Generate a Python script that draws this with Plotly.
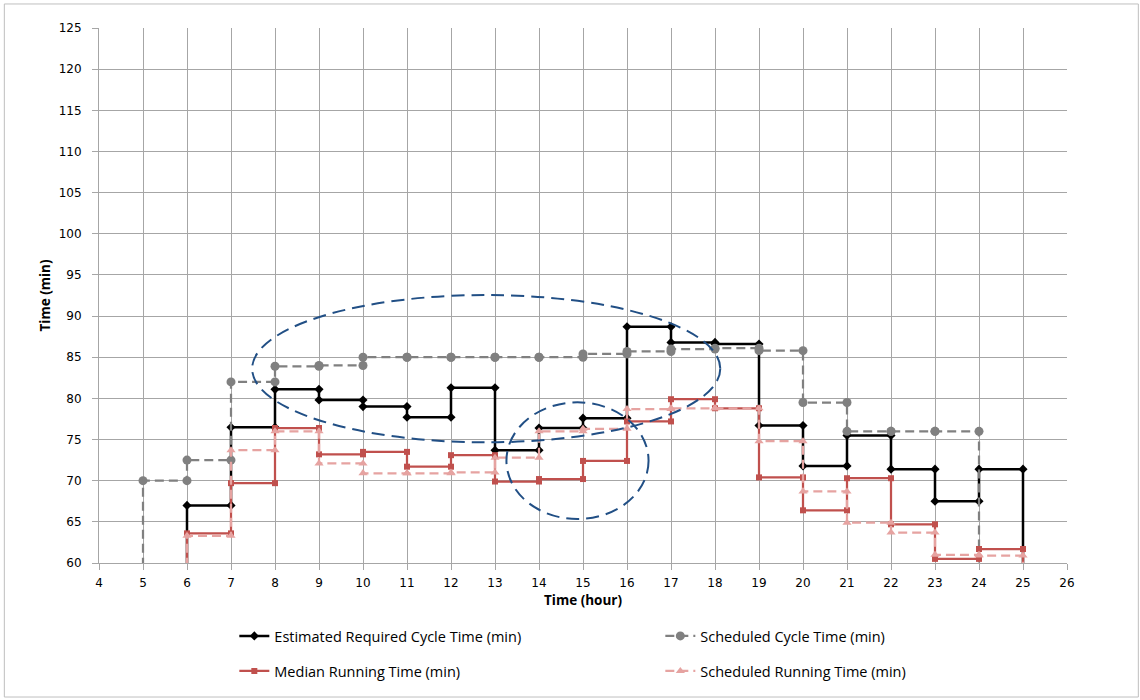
import plotly.graph_objects as go

# ---------------- data (value held over each hour h -> h+1) ----------------
est_hours = list(range(6, 25))
est_vals = [67.0, 76.5, 81.1, 79.8, 79.0, 77.7, 81.3, 73.7, 76.4, 77.6,
            88.7, 86.8, 86.6, 76.7, 71.8, 75.5, 71.4, 67.5, 71.4]

sched_cycle_hours = list(range(5, 24))
sched_cycle_vals = [70.0, 72.5, 82.0, 83.9, 84.0, 85.0, 85.0, 85.0, 85.0, 85.0,
                    85.4, 85.7, 86.0, 86.1, 85.8, 79.5, 76.0, 76.0, 76.0]

median_hours = list(range(6, 25))
median_vals = [63.6, 69.7, 76.4, 73.2, 73.5, 71.7, 73.1, 69.9, 70.2, 72.4,
               77.2, 79.9, 78.8, 70.4, 66.4, 70.3, 64.7, 60.5, 61.7]

sched_run_hours = list(range(6, 25))
sched_run_vals = [63.3, 73.7, 76.0, 72.1, 70.9, 70.9, 71.0, 72.8, 76.0, 76.3,
                  78.7, 78.8, 78.8, 74.8, 68.7, 64.9, 63.7, 61.0, 60.9]

OFF_SERVICE = 0.0  # value outside service hours (drawn below the axis floor)

x_ticks = list(range(4, 27))
y_ticks = list(range(60, 126, 5))

# ellipse annotations (data coordinates)
big_ellipse = dict(x0=7.48, x1=18.12, y0=74.66, y1=92.56)
small_ellipse = dict(x0=13.26, x1=16.49, y0=65.34, y1=79.52)


def steps(hours, vals):
    xs, ys = [hours[0]], [OFF_SERVICE]
    for h, v in zip(hours, vals):
        xs += [h, h + 1]
        ys += [v, v]
    xs.append(hours[-1] + 1)
    ys.append(OFF_SERVICE)
    return xs, ys


fig = go.Figure()

series = [
    ("Estimated Required Cycle Time (min)", est_hours, est_vals,
     dict(color="#000000", width=2.5), dict(symbol="diamond", size=7, color="#000000"), "legend"),
    ("Scheduled Cycle Time (min)", sched_cycle_hours, sched_cycle_vals,
     dict(color="#808080", width=2.25, dash="9px,5px"), dict(symbol="circle", size=9, color="#808080"), "legend"),
    ("Median Running Time (min)", median_hours, median_vals,
     dict(color="#C0504D", width=2.25), dict(symbol="square", size=6, color="#C0504D"), "legend2"),
    ("Scheduled Running Time (min)", sched_run_hours, sched_run_vals,
     dict(color="#E6A3A1", width=2.25, dash="9px,5px"), dict(symbol="triangle-up", size=8, color="#E6A3A1"), "legend2"),
]

for name, h, v, line, marker, leg in series:
    xs, ys = steps(h, v)
    fig.add_trace(go.Scatter(x=xs, y=ys, mode="lines+markers", name=name,
                             line=line, marker=marker, legend=leg))

ell_line = dict(color="#214F85", width=2, dash="13px,7px")
for e in (big_ellipse, small_ellipse):
    fig.add_shape(type="circle", xref="x", yref="y", line=ell_line, layer="above", **e)

# chart-area border
fig.add_shape(type="rect", xref="paper", yref="paper",
              x0=-0.0978, x1=1.0737, y0=-0.2505, y1=1.0449,
              line=dict(color="#BFBFBF", width=1), layer="below")

tick_font = dict(family="DejaVu Sans", size=12, color="#000000")
title_font = dict(family="Open Sans", size=13.5, color="#000000", weight="bold")
leg_font = dict(family="Open Sans", size=14.5, color="#000000")

fig.update_layout(
    width=1140, height=700,
    margin=dict(l=99, r=73, t=28, b=137),
    paper_bgcolor="white", plot_bgcolor="white",
    showlegend=True,
    legend=dict(orientation="h", x=0.1398, y=-0.1364, xanchor="left", yanchor="middle",
                entrywidth=381, entrywidthmode="pixels", font=leg_font,
                bgcolor="rgba(0,0,0,0)"),
    legend2=dict(orientation="h", x=0.1398, y=-0.2019, xanchor="left", yanchor="middle",
                 entrywidth=381, entrywidthmode="pixels", font=leg_font,
                 bgcolor="rgba(0,0,0,0)"),
    xaxis=dict(range=[4, 26], tickvals=x_ticks, ticks="outside", ticklen=6,
               tickcolor="#A6A6A6", showgrid=True, gridcolor="#A6A6A6", gridwidth=1,
               showline=True, linecolor="#A6A6A6", linewidth=1, zeroline=False,
               tickfont=tick_font, ticklabelstandoff=3,
               title=dict(text="Time (hour)", font=title_font, standoff=6)),
    yaxis=dict(range=[60, 125], tickvals=y_ticks, ticks="outside", ticklen=6,
               tickcolor="#A6A6A6", showgrid=True, gridcolor="#A6A6A6", gridwidth=1,
               showline=True, linecolor="#A6A6A6", linewidth=1, zeroline=False,
               tickfont=tick_font, ticklabelstandoff=8,
               title=dict(text="Time (min)", font=title_font, standoff=4)),
)

fig.write_html("out.html", config={"displayModeBar": False},
               post_script="document.body.style.margin='0px';")
